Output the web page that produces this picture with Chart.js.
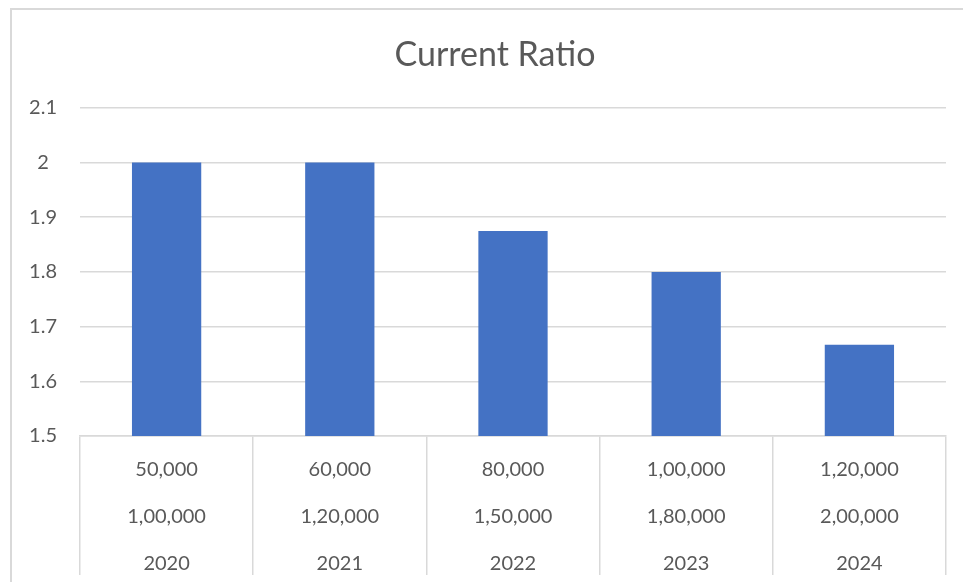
<!DOCTYPE html>
<html>
<head>
<meta charset="utf-8">
<script src="https://cdn.jsdelivr.net/npm/chart.js@4.4.1/dist/chart.umd.min.js"></script>
<style>
  html, body { margin: 0; padding: 0; background: #ffffff; overflow: hidden; }
  #frame {
    position: absolute; left: 10px; top: 8px; width: 975px; height: 600px;
    border: 2px solid #d9d9d9; box-sizing: border-box; z-index: 0;
  }
  #chart { position: absolute; left: 0; top: 0; z-index: 1; }
</style>
</head>
<body>
<div id="frame"></div>
<canvas id="chart" width="990" height="582"></canvas>
<script>
// Current liabilities, current assets and year for each period
const currentLiabilities = ['50,000', '60,000', '80,000', '1,00,000', '1,20,000'];
const currentAssets = ['1,00,000', '1,20,000', '1,50,000', '1,80,000', '2,00,000'];
const years = ['2020', '2021', '2022', '2023', '2024'];
// Current ratio = current assets / current liabilities
const currentRatio = [2, 2, 1.875, 1.8, 1.667];
const yTicks = [1.5, 1.6, 1.7, 1.8, 1.9, 2, 2.1];

const labels = years.map((y, i) => [currentLiabilities[i], currentAssets[i], y]);

const fontFamily = 'Lato, "Open Sans", sans-serif';
const textColor = '#595959';
const lineColor = '#d9d9d9';

new Chart(document.getElementById('chart'), {
  type: 'bar',
  data: {
    labels: labels,
    datasets: [{
      label: 'Current Ratio',
      data: currentRatio,
      backgroundColor: '#4472c4',
      borderWidth: 0,
      barPercentage: 0.4,
      categoryPercentage: 1.0
    }]
  },
  options: {
    responsive: false,
    animation: false,
    layout: { padding: { left: 12, right: 12, top: 35, bottom: 0 } },
    plugins: {
      legend: { display: false },
      tooltip: { enabled: false },
      title: {
        display: true,
        text: 'Current Ratio',
        color: textColor,
        font: { family: fontFamily, size: 34, weight: 'normal' },
        padding: { top: 0, bottom: 32 }
      }
    },
    scales: {
      x: {
        grid: {
          display: true,
          offset: true,
          drawOnChartArea: false,
          drawTicks: true,
          tickLength: 139,
          color: lineColor,
          lineWidth: 1.5
        },
        border: { display: true, color: lineColor, width: 1.5 },
        ticks: {
          color: textColor,
          font: { family: fontFamily, size: 20, lineHeight: 2.35 },
          padding: -129,
          maxRotation: 0,
          autoSkip: false
        },
        afterFit: (scale) => { scale.height = 146; }
      },
      y: {
        min: 1.5,
        max: 2.1,
        afterBuildTicks: (scale) => { scale.ticks = yTicks.map(v => ({ value: v })); },
        grid: { color: lineColor, lineWidth: 1.5, drawTicks: false },
        border: { display: false },
        ticks: {
          color: textColor,
          font: { family: fontFamily, size: 20 },
          crossAlign: 'center',
          padding: 23,
          callback: (v) => String(Number(v.toFixed(2)))
        },
        afterFit: (scale) => { scale.width = 68; }
      },
      // empty right-hand margin so the title centres on the whole frame
      yRight: {
        position: 'right',
        display: true,
        grid: { display: false, drawTicks: false },
        border: { display: false },
        ticks: { display: false },
        afterFit: (scale) => { scale.width = 32; }
      }
    }
  }
});
</script>
</body>
</html>
